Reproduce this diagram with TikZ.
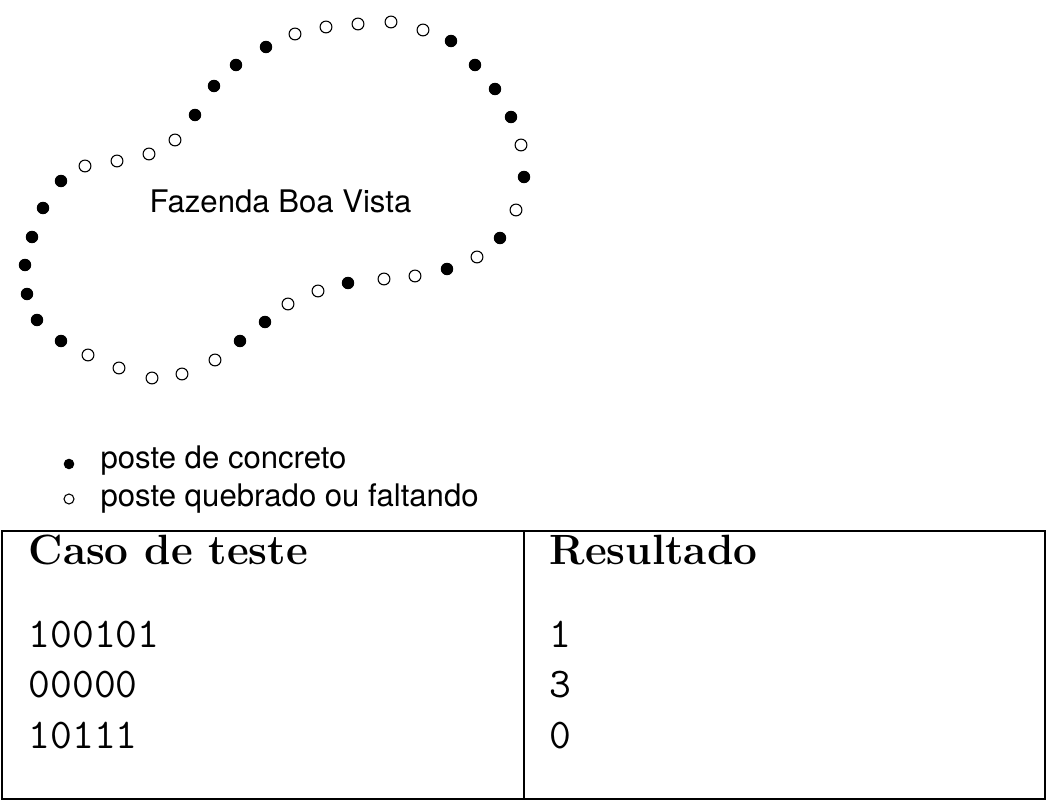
\documentclass[tikz,border=0pt]{standalone}
\usepackage{fontspec}
\usepackage{tikz}
\usetikzlibrary{positioning}
\newfontfamily\helv{TeX Gyre Heros}

\begin{document}
\begin{tikzpicture}[x=0.3213pt,y=-0.3213pt,
  solidpost/.style={fill=black},
  brokenpost/.style={draw=black,line width=0.35pt},
  sanstext/.style={font={\helv\fontsize{10}{12}\selectfont},inner sep=0pt,anchor=base west},
  headtext/.style={font={\fontsize{13.6}{16}\selectfont\bfseries},inner sep=0pt,anchor=base west},
  entrytext/.style={font={\fontsize{13.6}{16}\selectfont\ttfamily},inner sep=0pt,anchor=base west}]
\useasboundingbox (0,0) rectangle (1046,804);
% fence posts around the farm
\foreach \px/\py in {451/41,475/65,495/89,511/117,524/177,500/238,447/269,348/283,
  265/322,240/341,61/341,37/320,27/294,25/265,32/237,43/208,61/181,195/115,214/86,236/65,266/47}
  \fill[solidpost] (\px,\py) circle (2pt);
\foreach \px/\py in {295/34,326/27,358/24,391/22,423/30,521/145,516/210,477/257,415/276,384/279,
  318/291,288/304,215/360,182/374,152/378,119/368,88/355,85/166,117/161,149/154,175/140}
  \draw[brokenpost] (\px,\py) circle (1.9pt);
\node[sanstext] (farm) at (149,213) {Fazenda Boa Vista};
% legend
\fill[solidpost] (69,464) circle (1.7pt);
\node[sanstext] (legsolid) at (100,469) {poste de concreto};
\draw[brokenpost] (69,499) circle (1.6pt);
\node[sanstext] (legbroken) at (100,506.5) {poste quebrado ou faltando};
% table of test cases
\draw[line width=0.6pt] (2,531) rectangle (1045,799);
\draw[line width=0.6pt] (524,531) -- (524,799);
\node[headtext] (casehead) at (28,565) {Caso de teste};
\node[headtext] (reshead) at (549,565) {Resultado};
\foreach \case/\res [count=\i] in {100101/1,00000/3,10111/0} {
  \node[entrytext] (case\i) at (28,{597+50.5*\i}) {\case};
  \node[entrytext] (res\i) at (549,{597+50.5*\i}) {\res};
}
\end{tikzpicture}
\end{document}
